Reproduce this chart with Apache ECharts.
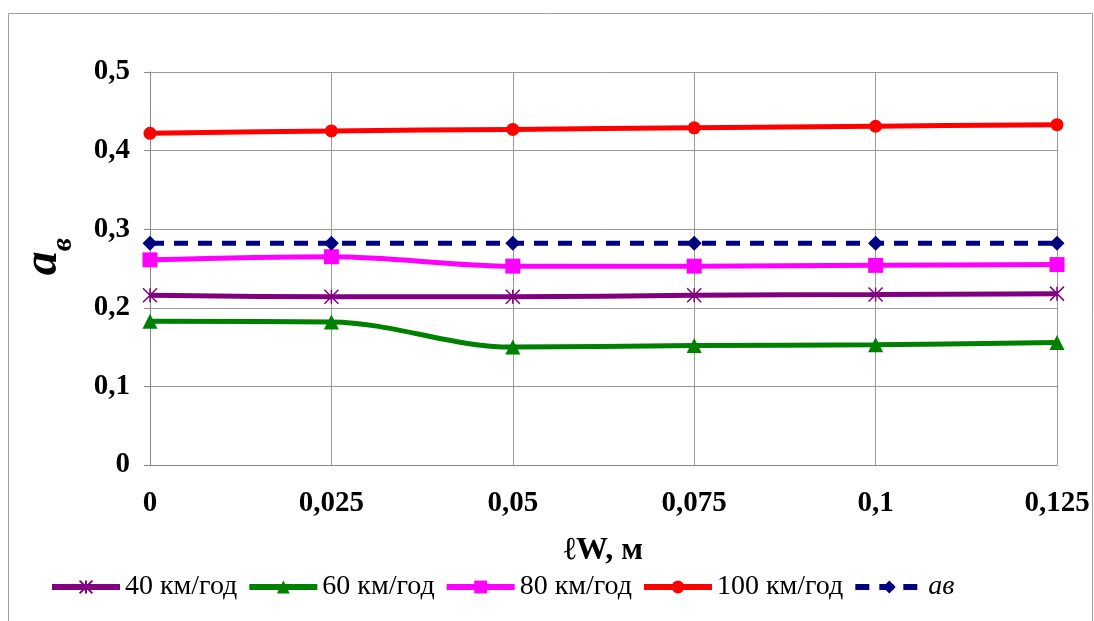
<!DOCTYPE html>
<html><head><meta charset="utf-8">
<script src="https://cdn.jsdelivr.net/npm/echarts@6/dist/echarts.min.js"></script>
<style>html,body{margin:0;padding:0;background:#fff}#c{width:1094px;height:621px}</style>
</head><body><div id="c"></div>
<script>
var categories = ['0', '0,025', '0,05', '0,075', '0,1', '0,125'];
var s40 = [0.216, 0.214, 0.214, 0.216, 0.217, 0.218];
var s60 = [0.183, 0.182, 0.150, 0.152, 0.153, 0.156];
var s80 = [0.261, 0.265, 0.253, 0.253, 0.254, 0.255];
var s100 = [0.422, 0.425, 0.427, 0.429, 0.431, 0.433];
var sav = [0.282, 0.282, 0.282, 0.282, 0.282, 0.282];
var yTicks = [0, 0.1, 0.2, 0.3, 0.4, 0.5];

var chart = echarts.init(document.getElementById('c'));
var F = '"Liberation Serif", "Times New Roman", serif';
function ser(name, data, color, symbol, size, extra) {
  var s = {
    name: name, type: 'line', data: data, smooth: 0.35,
    symbol: symbol, symbolSize: size,
    lineStyle: {color: color, width: 5},
    itemStyle: {color: color},
    emphasis: {disabled: true}
  };
  for (var k in extra) s[k] = extra[k];
  return s;
}
chart.setOption({
  animation: false,
  textStyle: {fontFamily: F},
  graphic: [{type: 'rect', shape: {x: 8.5, y: 13.5, width: 1084, height: 620},
    style: {fill: 'none', stroke: '#a0a0a0', lineWidth: 1}}],
  grid: {left: 150, right: 37, top: 72, bottom: 156, containLabel: false},
  legend: {
    bottom: 15, left: 44, itemWidth: 68, itemHeight: 16, itemGap: 9,
    lineStyle: {width: 6},
    textStyle: {fontFamily: F, fontSize: 28, color: '#000', rich: {i: {fontFamily: F, fontSize: 28, fontStyle: 'italic', color: '#000'}}},
    formatter: function (n) { return n === 'ав' ? '{i|' + n + '}' : n; },
    data: ['40 км/год', '60 км/год', '80 км/год', '100 км/год', 'ав']
  },
  xAxis: {
    type: 'category', data: categories, boundaryGap: false,
    name: 'ℓW, м', nameLocation: 'middle', nameGap: 70,
    nameTextStyle: {fontFamily: F, fontSize: 32, fontWeight: 'bold', color: '#000'},
    axisLine: {lineStyle: {color: '#888', width: 1}},
    axisTick: {show: false},
    axisLabel: {fontFamily: F, fontSize: 29, fontWeight: 'bold', color: '#000', margin: 24},
    splitLine: {show: true, lineStyle: {color: '#999', width: 1}}
  },
  yAxis: {
    type: 'value', min: 0, max: 0.5, interval: 0.1,
    name: '{a|a}{b|в}', nameLocation: 'middle', nameGap: 82, nameRotate: 90,
    nameTextStyle: {padding: [0, 0, 0, 24], rich: {
      a: {fontFamily: F, fontSize: 48, fontWeight: 'bold', fontStyle: 'italic', color: '#000'},
      b: {fontFamily: F, fontSize: 30, fontWeight: 'bold', fontStyle: 'italic', color: '#000', verticalAlign: 'bottom', padding: [0, 0, -10, 0]}
    }},
    axisLine: {show: true, lineStyle: {color: '#888'}},
    axisTick: {show: true, length: 6, lineStyle: {color: '#888'}},
    axisLabel: {fontFamily: F, fontSize: 29, fontWeight: 'bold', color: '#000', margin: 20,
      formatter: function (v) { return String(Math.round(v * 10) / 10).replace('.', ','); }},
    splitLine: {lineStyle: {color: '#999', width: 1}}
  },
  series: [
    ser('40 км/год', s40, '#800080', 'path://M0,0L10,10M10,0L0,10M5,0L5,10', 14,
      {itemStyle: {color: '#800080', borderColor: '#800080', borderWidth: 1.5}}),
    ser('60 км/год', s60, '#008000', 'triangle', 15, {}),
    ser('80 км/год', s80, '#ff00ff', 'rect', 15, {}),
    ser('100 км/год', s100, '#ff0000', 'circle', 13, {}),
    ser('ав', sav, '#000080', 'diamond', 15, {smooth: false, lineStyle: {color: '#000080', width: 5, type: [14, 10]}})
  ]
});
</script></body></html>
